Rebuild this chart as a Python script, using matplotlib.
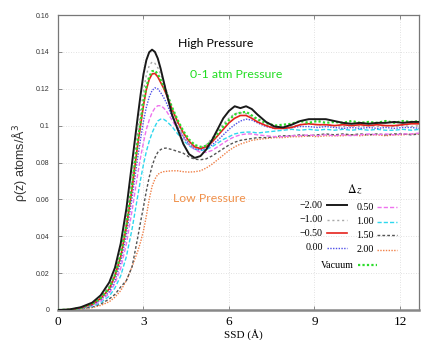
import matplotlib
matplotlib.use("Agg")
import matplotlib.pyplot as plt
from matplotlib.lines import Line2D

ssd = [0, 0.4, 0.8, 1.2, 1.5, 1.8, 2.0, 2.2, 2.4, 2.6, 2.8, 2.9, 3.0, 3.1, 3.2, 3.3, 3.4,
       3.5, 3.6, 3.7, 3.8,
       4.0, 4.2, 4.4, 4.6, 4.8, 5.0, 5.2, 5.4, 5.6, 5.8, 6.0, 6.2, 6.4, 6.6, 6.8, 7.0,
       7.3, 7.6, 7.9, 8.2, 8.5, 8.8, 9.1, 9.4, 9.7, 10.0, 10.3, 10.6, 10.9, 11.2, 11.5,
       11.8, 12.1, 12.4, 12.7]

rho_m200 = [0, 0.0003, 0.0015, 0.004, 0.008, 0.015, 0.023, 0.036, 0.055, 0.080,
            0.105, 0.117, 0.128, 0.1355, 0.1398, 0.1412, 0.1400, 0.1365, 0.131, 0.1245, 0.118,
            0.106, 0.098, 0.090, 0.0845, 0.0825, 0.0835, 0.087,
            0.092, 0.098, 0.104, 0.108, 0.1105, 0.1095, 0.1105, 0.109, 0.106, 0.102, 0.0995,
            0.0990, 0.1005, 0.1025, 0.1035, 0.1035, 0.1035, 0.1025, 0.1015, 0.101, 0.1015,
            0.101, 0.1015, 0.1015, 0.102, 0.1015, 0.102, 0.102]
rho_m100 = [0, 0.0003, 0.0013, 0.0035, 0.007, 0.013, 0.020, 0.032, 0.049, 0.072,
            0.097, 0.108, 0.119, 0.1275, 0.1325, 0.1345, 0.1338, 0.1315, 0.128, 0.124, 0.1195,
            0.110, 0.101, 0.094, 0.090, 0.088, 0.0880, 0.0895,
            0.093, 0.097, 0.101, 0.104, 0.1065, 0.107, 0.1065, 0.105, 0.103, 0.1005, 0.099,
            0.099, 0.0995, 0.1005, 0.101, 0.1005, 0.1005, 0.100, 0.0995, 0.100, 0.0995, 0.100,
            0.0995, 0.100, 0.0995, 0.100, 0.0995, 0.100]
rho_m050 = [0, 0.0002, 0.0012, 0.0031, 0.0063, 0.0115, 0.0185, 0.029, 0.045, 0.066,
            0.090, 0.1005, 0.111, 0.1195, 0.125, 0.128, 0.1283, 0.1265, 0.1235, 0.1205, 0.117,
            0.109, 0.102, 0.0960, 0.0915, 0.0885, 0.0875,
            0.0885, 0.091, 0.0945, 0.098, 0.1015, 0.104, 0.1055, 0.1055, 0.1040, 0.102, 0.100,
            0.0985, 0.0985, 0.099, 0.1005, 0.101, 0.1005, 0.1005, 0.100, 0.1005, 0.100, 0.1005,
            0.100, 0.1005, 0.100, 0.100, 0.1005, 0.101, 0.101]
rho_000 = [0, 0.0002, 0.001, 0.0027, 0.0055, 0.010, 0.016, 0.026, 0.041, 0.061,
           0.083, 0.093, 0.1025, 0.110, 0.1155, 0.119, 0.1205, 0.120, 0.118, 0.1155, 0.1125,
           0.105, 0.099, 0.094, 0.090, 0.0875, 0.0868, 0.0875,
           0.0895, 0.092, 0.095, 0.098, 0.1005, 0.1025, 0.1035, 0.103, 0.1015, 0.0995, 0.0985,
           0.0985, 0.099, 0.0995, 0.0995, 0.099, 0.0995, 0.099, 0.0985, 0.099, 0.0985, 0.099,
           0.0985, 0.099, 0.0985, 0.099, 0.099, 0.0985]
rho_050 = [0, 0.0002, 0.0009, 0.0024, 0.0048, 0.009, 0.0145, 0.0225, 0.036, 0.054,
           0.074, 0.083, 0.091, 0.098, 0.103, 0.107, 0.1095, 0.1108, 0.1108, 0.1097, 0.108,
           0.103, 0.098, 0.0935, 0.0895, 0.0870, 0.0855, 0.0855,
           0.0865, 0.0885, 0.0905, 0.0925, 0.094, 0.095, 0.0955, 0.0955, 0.095, 0.0945, 0.094,
           0.094, 0.0945, 0.0945, 0.095, 0.0945, 0.095, 0.0945, 0.095, 0.0945, 0.095, 0.0955,
           0.095, 0.0955, 0.095, 0.0955, 0.0955, 0.096]
rho_100 = [0, 0.0001, 0.0008, 0.002, 0.004, 0.0075, 0.012, 0.0185, 0.029, 0.044,
           0.062, 0.071, 0.079, 0.086, 0.0915, 0.096, 0.0995, 0.1025, 0.1035, 0.1035, 0.1025,
           0.0995, 0.0955, 0.092, 0.089, 0.0872, 0.0865, 0.087,
           0.0885, 0.0905, 0.0925, 0.094, 0.0955, 0.0962, 0.0965, 0.0965, 0.096, 0.0965, 0.097,
           0.0975, 0.098, 0.0975, 0.098, 0.0975, 0.098, 0.0975, 0.098, 0.0975, 0.098, 0.0975,
           0.098, 0.0975, 0.0975, 0.098, 0.0975, 0.098]
rho_150 = [0, 0.0001, 0.0006, 0.0016, 0.0032, 0.006, 0.0085, 0.0125, 0.016, 0.0235,
           0.0395, 0.048, 0.056, 0.0645, 0.072, 0.078, 0.0825, 0.0855, 0.087, 0.0877, 0.0878,
           0.087, 0.0860, 0.085, 0.083, 0.0818, 0.0815, 0.082,
           0.0835, 0.0855, 0.0875, 0.0895, 0.091, 0.092, 0.0925, 0.093, 0.0935, 0.0935, 0.094,
           0.0945, 0.0945, 0.095, 0.0945, 0.095, 0.0955, 0.095, 0.0955, 0.095, 0.0955, 0.095,
           0.0955, 0.095, 0.0955, 0.0955, 0.095, 0.0955]
rho_200 = [0, 0.0001, 0.0005, 0.0013, 0.0025, 0.0045, 0.007, 0.0105, 0.016, 0.0235,
           0.032, 0.037, 0.043, 0.051, 0.060, 0.067, 0.071, 0.0735, 0.0745, 0.075, 0.0752,
           0.0755, 0.0755, 0.075, 0.0748, 0.075, 0.0755, 0.077,
           0.079, 0.0815, 0.084, 0.0865, 0.0885, 0.090, 0.091, 0.092, 0.0925, 0.093, 0.0935,
           0.0935, 0.094, 0.094, 0.0945, 0.094, 0.0945, 0.0945, 0.0945, 0.095, 0.0945, 0.095,
           0.095, 0.0945, 0.095, 0.095, 0.0955, 0.0955]
rho_vac = [0, 0.0002, 0.0012, 0.0032, 0.0065, 0.012, 0.019, 0.030, 0.046, 0.068,
           0.092, 0.1025, 0.113, 0.121, 0.1265, 0.1295, 0.1298, 0.128, 0.125, 0.1215, 0.118,
           0.110, 0.103, 0.097, 0.0925, 0.0895, 0.0885, 0.089,
           0.092, 0.0955, 0.0995, 0.103, 0.106, 0.107, 0.1075, 0.1055, 0.1035, 0.1015, 0.100,
           0.1005, 0.101, 0.1025, 0.1015, 0.1025, 0.1015, 0.102, 0.1015, 0.1025, 0.1015, 0.102,
           0.1015, 0.1025, 0.1015, 0.1025, 0.102, 0.1025]

labels = ["\u22122.00", "\u22121.00", "\u22120.50", "0.00", "0.50", "1.00", "1.50", "2.00", "Vacuum"]
xticks = [0, 3, 6, 9, 12]
yticks = [0, 0.02, 0.04, 0.06, 0.08, 0.1, 0.12, 0.14, 0.16]
ytick_labels = ["0", "0.02", "0.04", "0.06", "0.08", "0.1", "0.12", "0.14", "0.16"]

series = [rho_m200, rho_m100, rho_m050, rho_000, rho_050, rho_100, rho_150, rho_200, rho_vac]
styles = [
    dict(color="#1a1a1a", ls="-", lw=1.4),
    dict(color="#a8a8a8", ls=(0, (1.5, 2)), lw=1.0),
    dict(color="#e5221c", ls="-", lw=1.2),
    dict(color="#4f4fe8", ls=(0, (1, 1)), lw=1.0),
    dict(color="#ee72ee", ls=(0, (3, 1.5)), lw=1.0),
    dict(color="#2ed8ee", ls=(0, (3, 1.5)), lw=1.0),
    dict(color="#555555", ls=(0, (2, 1.5)), lw=1.0),
    dict(color="#f08048", ls=(0, (1, 1)), lw=1.0),
    dict(color="#2cdc2c", ls=(0, (1, 1)), lw=1.6),
]

fig = plt.figure(figsize=(4.21, 3.40), dpi=100)
x0, x1 = 58 / 421, 418.5 / 421
y0, y1 = 1 - 310 / 340, 1 - 15 / 340
ax = fig.add_axes([x0, y0, x1 - x0, y1 - y0])

order = [7, 6, 5, 4, 3, 1, 2, 8, 0]
for i in order:
    ax.plot(ssd, series[i], **styles[i], zorder=3 + (i == 0))

ax.set_xlim(0, 12.65)
ax.set_ylim(0, 0.16)
ax.set_xticks(xticks)
ax.set_xticklabels([str(t) for t in xticks], family="Liberation Serif", fontsize=9.5)
ax.set_yticks(yticks)
ax.set_yticklabels(ytick_labels, family="Liberation Sans", fontsize=5, color="#333333")
ax.tick_params(axis="both", direction="in", length=3, width=0.6, color="#777777",
               top=True, right=False)
ax.tick_params(axis="x", pad=4)
ax.tick_params(axis="y", pad=6)
ax.grid(True, color="#d8d8d8", ls=(0, (1, 2)), lw=0.6)
for s in ["left", "top", "right"]:
    ax.spines[s].set_color("#777777")
    ax.spines[s].set_linewidth(0.9)
ax.spines["bottom"].set_color("#888888")
ax.spines["bottom"].set_linewidth(1.8)

ax.set_ylabel("\u03c1(z) atoms/\u00c5$^3$", family="Liberation Sans", fontsize=9,
              color="#333333", labelpad=5)
ax.set_xlabel("SSD (\u00c5)", family="Liberation Serif", fontsize=8, labelpad=-1.5)
ax.xaxis.set_label_coords(fx_center := (243 - 58) / (418.5 - 58), -0.065)

# annotations
ax.text(4.21, 0.1443, "High Pressure", family="Lato", fontsize=8.8, color="black",
        va="center", ha="left")
ax.text(4.63, 0.1275, "0-1 atm Pressure", family="Lato", fontsize=8.8, color="#22dd22",
        va="center", ha="left")
ax.text(4.04, 0.0607, "Low Pressure", family="Lato", fontsize=8.8, color="#f0904a",
        va="center", ha="left")

# manual legend (axes fraction)
def fx(px):
    return (px - 58) / (418.5 - 58)

def fy(py):
    return (310 - py) / 295

tr = ax.transAxes
ax.text(fx(355), fy(190), r"$\Delta\,z$", transform=tr, ha="center", va="center",
        fontsize=8.5, math_fontfamily="stix")
col1_y = [205, 220, 233, 248]
col2_y = [207, 222, 235, 250]
for k in range(4):
    ax.text(fx(323), fy(col1_y[k]), labels[k], transform=tr, ha="right", va="center",
            family="Liberation Serif", fontsize=7.2)
    ax.add_line(Line2D([fx(327), fx(347)], [fy(col1_y[k])] * 2, transform=tr,
                       **styles[k]))
    ax.text(fx(374), fy(col2_y[k]), labels[4 + k], transform=tr, ha="right", va="center",
            family="Liberation Serif", fontsize=7.2)
    ax.add_line(Line2D([fx(377), fx(397)], [fy(col2_y[k])] * 2, transform=tr,
                       **styles[4 + k]))
ax.text(fx(354), fy(265), labels[8], transform=tr, ha="right", va="center",
        family="Liberation Serif", fontsize=7.2)
ax.add_line(Line2D([fx(358), fx(377)], [fy(265)] * 2, transform=tr, **styles[8]))

fig.savefig("out.png", dpi=100)
